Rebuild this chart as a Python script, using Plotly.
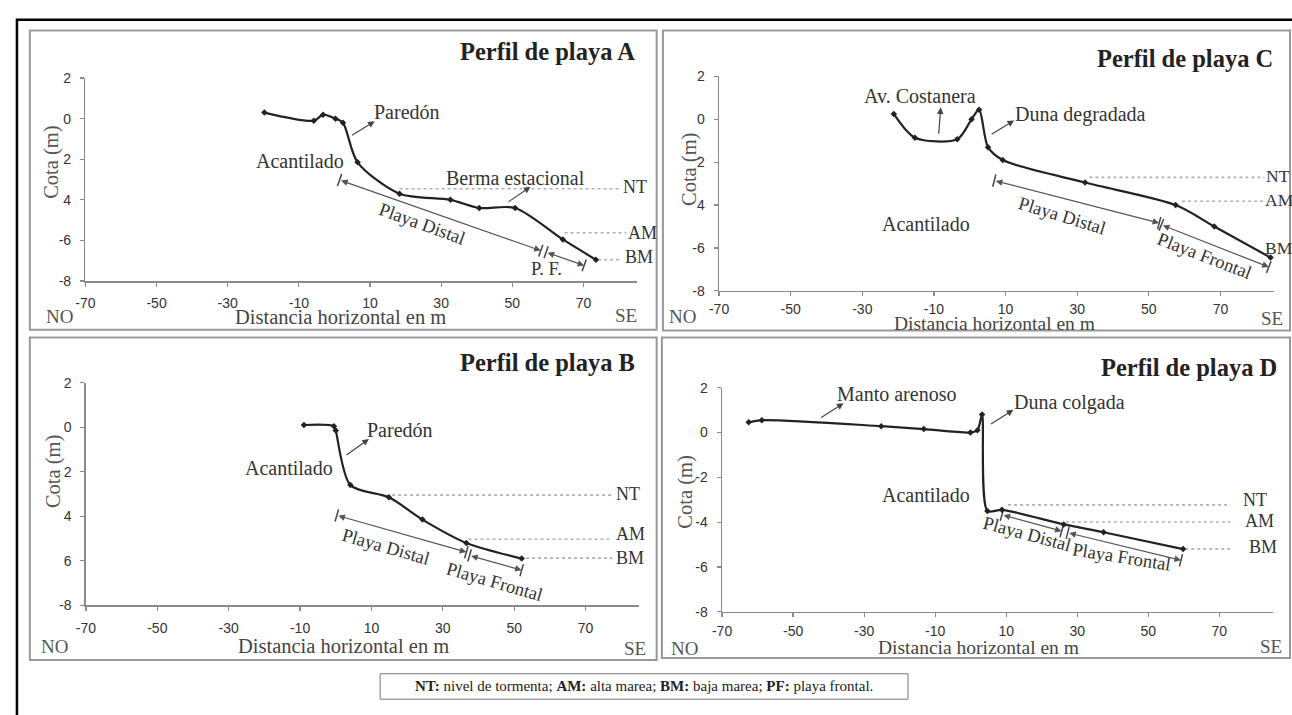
import math
import plotly.graph_objects as go

W, H = 1292, 715

# ---------------- data ----------------
X_RANGE = [-70, 85]
Y_RANGE = [-8, 2]
x_ticks = [-70, -50, -30, -10, 10, 30, 50, 70]
x_ticktext = ["-70", "-50", "-30", "-10", "10", "30", "50", "70"]
y_ticks = [2, 0, -2, -4, -6, -8]

# tick texts as printed in each panel (some minus signs hidden in the original)
a_yticktext = ["2", "0", "2", "4", "-6", "-8"]
b_yticktext = ["2", "0", "2", "4", "6", "-8"]
c_yticktext = ["2", "0", "2", "4", "-6", "-8"]
d_yticktext = ["2", "0", "-2", "-4", "-6", "-8"]

# profiles
a_x = [-19.7, -5.8, -3.2, 0.3, 2.4, 6.5, 18.3, 32.6, 40.7, 50.8, 64.2, 73.5]
a_y = [0.3, -0.1, 0.2, 0.0, -0.2, -2.15, -3.7, -4.0, -4.4, -4.4, -5.95, -6.95]
b_x = [-8.9, -0.5, 0.0, 4.1, 14.9, 24.3, 36.6, 52.1]
b_y = [0.1, 0.05, -0.15, -2.6, -3.15, -4.15, -5.2, -5.9]
c_x = [-21.2, -15.3, -3.5, 0.5, 2.6, 5.1, 9.2, 32.2, 57.5, 68.3, 84.0]
c_y = [0.25, -0.86, -0.93, 0.0, 0.45, -1.3, -1.9, -2.95, -4.0, -5.0, -6.45]
d_x = [-62.5, -58.8, -25.2, -13.2, -0.1, 1.9, 3.2, 4.7, 8.8, 26.2, 37.4, 59.8]
d_y = [0.45, 0.55, 0.28, 0.15, 0.0, 0.1, 0.8, -3.5, -3.45, -4.1, -4.45, -5.2]

# reference levels: (label, x_start, x_end, y_line, x_label, y_label)
a_levels = [("NT", 18.3, 80.2, -3.45, 80.5, -3.35),
            ("AM", 64.7, 82.1, -5.62, 82.0, -5.62),
            ("BM", 74.1, 80.7, -6.95, 81.0, -6.8)]
b_levels = [("NT", 15.8, 77.5, -3.05, 78.1, -3.02),
            ("AM", 37.2, 77.5, -5.03, 78.1, -4.8),
            ("BM", 53.3, 77.5, -5.88, 78.1, -5.88)]
c_levels = [("NT", 33.4, 82.3, -2.71, 82.3, -2.64),
            ("AM", 59.3, 82.3, -3.82, 81.9, -3.78),
            ("BM", 84.0, 84.0, -6.45, 82.0, -5.98)]
d_levels = [("NT", 10.5, 73.1, -3.23, 76.0, -3.01),
            ("AM", 26.8, 73.1, -3.99, 76.6, -3.96),
            ("BM", 60.4, 73.1, -5.19, 77.8, -5.09)]

# beach-zone dimension arrows: (x0, y0, x1, y1)
a_zones = [(1.45, -3.02, 58.0, -6.5), (59.5, -6.58, 70.2, -7.23)]
b_zones = [(0.3, -3.96, 36.6, -5.61), (37.5, -5.76, 52.1, -6.42)]
c_zones = [(6.85, -2.86, 52.9, -4.84), (53.5, -4.92, 83.5, -6.89)]
d_zones = [(8.8, -3.67, 25.6, -4.4), (27.3, -4.47, 59.2, -5.7)]

# zone labels: (text, x, y, angle)
a_zone_lbl = [("Playa Distal", 24.7, -5.2, 20), ("P. F.", 59.5, -7.39, 0)]
b_zone_lbl = [("Playa Distal", 14.1, -5.36, 16), ("Playa Frontal", 44.6, -6.93, 16)]
c_zone_lbl = [("Playa Distal", 25.9, -4.53, 17), ("Playa Frontal", 65.6, -6.36, 21)]
d_zone_lbl = [("Playa Distal", 15.8, -4.54, 15), ("Playa Frontal", 42.4, -5.56, 9)]

# feature labels: (text, x, y, arrow tail x, tail y, head x, head y) ; None = no arrow
a_feat = [("Paredón", 20.3, 0.31, 4.5, -0.86, 11.3, -0.13),
          ("Acantilado", -9.6, -2.09, None, None, None, None),
          ("Berma estacional", 50.8, -2.93, 48.5, -4.15, 55.1, -3.35)]
b_feat = [("Paredón", 18.1, -0.12, 2.6, -1.29, 9.3, -0.53),
          ("Acantilado", -13.0, -1.81, None, None, None, None)]
c_feat = [("Av. Costanera", -13.9, 1.09, -8.7, -0.74, -8.1, 0.56),
          ("Duna degradada", 31.05, 0.21, 5.7, -0.74, 12.4, -0.05),
          ("Acantilado", -12.2, -4.9, None, None, None, None)]
d_feat = [("Manto arenoso", -20.75, 1.71, -42.5, 0.62, -35.8, 1.3),
          ("Duna colgada", 27.9, 1.35, 5.3, 0.33, 12.0, 1.01),
          ("Acantilado", -12.6, -2.8, None, None, None, None)]

titles = ["Perfil de playa A", "Perfil de playa B", "Perfil de playa C", "Perfil de playa D"]
footnote = ("<b>NT:</b> nivel de tormenta; <b>AM:</b> alta marea; "
            "<b>BM:</b> baja marea; <b>PF:</b> playa frontal.")

# ---------------- layout geometry (pixels) ----------------
geo = [
    dict(l=76, r=631.7, t=71.7, b=279.3, box=(20, 23, 651.7, 329), title=(632, 45),
         dist=(333, 316), no=(50, 316), se=(621, 315), cota=(41.7, 158), so=5, dsz=20.5),
    dict(l=76.5, r=634, t=383.3, b=611, box=(20, 337, 651.7, 667), title=(632, 363),
         dist=(336, 653), no=(45, 653), se=(630, 655), cota=(44, 474), so=5, dsz=20.5),
    dict(l=714.6, r=1274, t=70, b=289.3, box=(658, 23, 1290, 330), title=(1275, 52),
         dist=(992, 322.5), no=(678, 316), se=(1272, 318), cota=(685, 165), so=1, dsz=19.5),
    dict(l=717.6, r=1272.5, t=388.3, b=617.7, box=(657, 337, 1290, 665), title=(1279, 368),
         dist=(976, 654), no=(680, 655), se=(1271, 653), cota=(681, 495), so=2, dsz=19.5),
]

SERIF = "Liberation Serif"
SANS = "Liberation Sans"
TXT = "#333333"


def fx(px):
    return px / W


def fy(py):
    return 1 - py / H


panels = [
    (a_x, a_y, a_yticktext, a_levels, a_zones, a_zone_lbl, a_feat),
    (b_x, b_y, b_yticktext, b_levels, b_zones, b_zone_lbl, b_feat),
    (c_x, c_y, c_yticktext, c_levels, c_zones, c_zone_lbl, c_feat),
    (d_x, d_y, d_yticktext, d_levels, d_zones, d_zone_lbl, d_feat),
]

fig = go.Figure()
annotations = []
shapes = []
layout_axes = {}


def paper_text(text, px, py, size, color, xanchor="center", angle=0):
    annotations.append(dict(text=text, x=fx(px), y=fy(py), xref="paper", yref="paper",
                            xanchor=xanchor, yanchor="middle", showarrow=False,
                            textangle=angle, font=dict(family=SERIF, size=size, color=color)))


for i, (px_, py_, ytt, levels, zones, zlbl, feats) in enumerate(panels):
    g = geo[i]
    n = "" if i == 0 else str(i + 1)
    xa, ya = "x" + n, "y" + n
    sx = (g["r"] - g["l"]) / (X_RANGE[1] - X_RANGE[0])
    sy = (g["b"] - g["t"]) / (Y_RANGE[1] - Y_RANGE[0])
    lab_size = 17.5 if i == 2 else 18

    layout_axes["xaxis" + n] = dict(
        domain=[fx(g["l"]), fx(g["r"])], range=X_RANGE, anchor=ya,
        tickvals=x_ticks, ticktext=x_ticktext, showline=True, linecolor="#8a8a8a", linewidth=1.5,
        ticks="outside", ticklen=4, tickcolor="#8a8a8a", tickwidth=1.2,
        showgrid=False, zeroline=False, ticklabelstandoff=g["so"],
        tickfont=dict(family=SANS, size=14, color=TXT), fixedrange=True)
    layout_axes["yaxis" + n] = dict(
        domain=[fy(g["b"]), fy(g["t"])], range=Y_RANGE, anchor=xa,
        tickvals=y_ticks, ticktext=ytt, showline=True, linecolor="#8a8a8a",
        linewidth=1.5, ticks="outside", ticklen=4, tickcolor="#8a8a8a", tickwidth=1.2,
        showgrid=False, zeroline=False, ticklabelstandoff=6,
        tickfont=dict(family=SANS, size=14, color=TXT), fixedrange=True)

    # reference level dotted lines
    for (lab, x0, x1, yl, xt, yt) in levels:
        if x1 > x0:
            fig.add_trace(go.Scatter(x=[x0, x1], y=[yl, yl], mode="lines", xaxis=xa, yaxis=ya,
                                     line=dict(color="#b0b0b0", width=1.6, dash="dot"),
                                     hoverinfo="skip", showlegend=False))
        annotations.append(dict(text=lab, x=xt, y=yt, xref=xa, yref=ya, xanchor="left",
                                yanchor="middle", showarrow=False,
                                font=dict(family=SERIF, size=lab_size, color=TXT)))

    # zone dimension arrows
    for (x0, y0, x1, y1) in zones:
        annotations.append(dict(text="", x=x1, y=y1, ax=x0, ay=y0, xref=xa, yref=ya,
                                axref=xa, ayref=ya, showarrow=True, arrowside="end+start",
                                arrowhead=2, startarrowhead=2, arrowsize=1.1, startarrowsize=1.1,
                                arrowwidth=1.2, arrowcolor="#555555"))
        ang = math.degrees(math.atan2(-(y1 - y0) * sy, (x1 - x0) * sx))
        fig.add_trace(go.Scatter(x=[x0, x1], y=[y0, y1], mode="markers", xaxis=xa, yaxis=ya,
                                 marker=dict(symbol="line-ns-open", size=9, angle=ang,
                                             color="#444444",
                                             line=dict(color="#444444", width=1.5)),
                                 hoverinfo="skip", showlegend=False))
    for (t, x, y, a) in zlbl:
        annotations.append(dict(text=t, x=x, y=y, xref=xa, yref=ya, showarrow=False,
                                xanchor="center", yanchor="middle",
                                textangle=a, font=dict(family=SERIF, size=18.5, color=TXT)))

    # feature labels and pointer arrows
    for (t, x, y, tx, ty, hx, hy) in feats:
        annotations.append(dict(text=t, x=x, y=y, xref=xa, yref=ya, showarrow=False,
                                xanchor="center", yanchor="middle",
                                font=dict(family=SERIF, size=20, color=TXT)))
        if tx is not None:
            annotations.append(dict(text="", x=hx, y=hy, ax=tx, ay=ty, xref=xa, yref=ya,
                                    axref=xa, ayref=ya, showarrow=True, arrowhead=2,
                                    arrowsize=1.1, arrowwidth=1.2, arrowcolor="#444444"))

    # profile line
    fig.add_trace(go.Scatter(x=px_, y=py_, mode="lines+markers", xaxis=xa, yaxis=ya,
                             line=dict(color="#222222", width=2.2, shape="spline", smoothing=0.8),
                             marker=dict(symbol="diamond", size=5, color="#222222"),
                             hoverinfo="skip", showlegend=False))

    # panel frame
    bx0, by0, bx1, by1 = g["box"]
    shapes.append(dict(type="rect", xref="paper", yref="paper", x0=fx(bx0), y0=fy(by1),
                       x1=fx(bx1), y1=fy(by0), line=dict(color="#999999", width=2)))

    # panel texts
    paper_text("<b>%s</b>" % titles[i], g["title"][0], g["title"][1], 24.5, "#222222", xanchor="right")
    paper_text("Distancia horizontal en m", g["dist"][0], g["dist"][1], g["dsz"], "#444444")
    paper_text("NO", g["no"][0], g["no"][1], 19, "#555555")
    paper_text("SE", g["se"][0], g["se"][1], 19, "#555555")
    paper_text("Cota (m)", g["cota"][0], g["cota"][1], 20.5, "#555555", angle=-90)

# outer black frame
shapes.append(dict(type="rect", xref="paper", yref="paper", x0=fx(7), y0=fy(740), x1=fx(1310),
                   y1=fy(12), line=dict(color="#000000", width=2.5)))
# footnote box
shapes.append(dict(type="rect", xref="paper", yref="paper", x0=fx(373), y0=fy(707), x1=fx(905),
                   y1=fy(681), line=dict(color="#777777", width=1)))
paper_text(footnote, 639, 694, 15, "#222222")

fig.update_layout(width=W, height=H, margin=dict(l=0, r=0, t=0, b=0),
                  paper_bgcolor="white", plot_bgcolor="white", showlegend=False,
                  annotations=annotations, shapes=shapes, **layout_axes)

fig.write_html("out.html", config={"displayModeBar": False, "staticPlot": True},
               post_script="document.body.style.margin='0px';document.body.style.overflow='hidden';")
